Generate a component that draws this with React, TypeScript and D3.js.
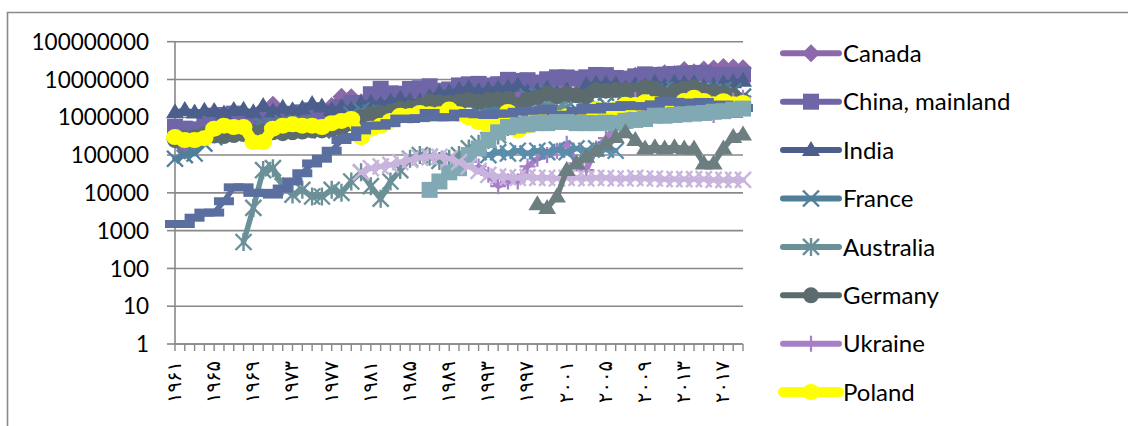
import React from "react";
import * as d3 from "d3";

const N = null;

const YEARS = [
  1961, 1962, 1963, 1964, 1965, 1966, 1967, 1968, 1969, 1970,
  1971, 1972, 1973, 1974, 1975, 1976, 1977, 1978, 1979, 1980,
  1981, 1982, 1983, 1984, 1985, 1986, 1987, 1988, 1989, 1990,
  1991, 1992, 1993, 1994, 1995, 1996, 1997, 1998, 1999, 2000,
  2001, 2002, 2003, 2004, 2005, 2006, 2007, 2008, 2009, 2010,
  2011, 2012, 2013, 2014, 2015, 2016, 2017, 2018, 2019,
];

const X_LABEL_YEARS = [1961, 1965, 1969, 1973, 1977, 1981, 1985, 1989, 1993, 1997, 2001, 2005, 2009, 2013, 2017];
const X_LABELS = ["۱۹۶۱", "۱۹۶۵", "۱۹۶۹", "۱۹۷۳", "۱۹۷۷", "۱۹۸۱", "۱۹۸۵", "۱۹۸۹", "۱۹۹۳", "۱۹۹۷", "۲۰۰۱", "۲۰۰۵", "۲۰۰۹", "۲۰۱۳", "۲۰۱۷"];
const Y_TICKS = [1, 10, 100, 1000, 10000, 100000, 1000000, 10000000, 100000000];
const Y_LABELS = ["1", "10", "100", "1000", "10000", "100000", "1000000", "10000000", "100000000"];

const CANADA = [
  254000, 131000, 186000, 324000, 531000, 585000, 550000, 429000, 840000, 1638000,
  2160000, 1305000, 1202000, 1197000, 1741000, 836000, 1973000, 3497000, 3411000, 2483000,
  1837000, 2226000, 2585000, 3425000, 3498000, 3787000, 3846000, 4284000, 3096000, 3266000,
  4224000, 3872000, 5525000, 7233000, 6436000, 5062000, 6393000, 7643000, 8798000, 7205000,
  5017000, 4178000, 6771000, 7728000, 9483000, 9000000, 9529000, 12643000, 12417000, 12789000,
  14608000, 13869000, 17960000, 15555000, 18377000, 19599000, 21328000, 20724000, 19912000,
];
const CHINA = [
  560000, 500000, 480000, 620000, 1100000, 1150000, 1250000, 1000000, 920000, 970000,
  1120000, 1120000, 1240000, 1350000, 1530000, 1350000, 1210000, 1870000, 2400000, 2380000,
  4070000, 5660000, 4290000, 4200000, 5600000, 5880000, 6600000, 5040000, 5440000, 6960000,
  7440000, 7650000, 6940000, 7490000, 9780000, 9200000, 9580000, 8300000, 10130000, 11380000,
  11330000, 10550000, 11420000, 13180000, 13050000, 10970000, 10570000, 12100000, 13660000, 13080000,
  13430000, 14000000, 14460000, 14770000, 14930000, 13130000, 13270000, 13280000, 13480000,
];
const INDIA = [
  1350000, 1550000, 1330000, 1480000, 1470000, 1260000, 1550000, 1570000, 1350000, 1980000,
  1430000, 1800000, 1530000, 1700000, 2250000, 1940000, 1550000, 1860000, 1600000, 2300000,
  2380000, 2210000, 2610000, 3070000, 2680000, 2600000, 3400000, 4380000, 4500000, 5230000,
  5860000, 4870000, 5330000, 5800000, 6000000, 6960000, 4700000, 4900000, 5660000, 4190000,
  5100000, 3900000, 7000000, 7600000, 7600000, 7400000, 5800000, 7200000, 6600000, 8180000,
  6600000, 8030000, 7880000, 7960000, 6310000, 6800000, 7900000, 8430000, 9260000,
];
const FRANCE = [
  80000, 100000, 110000, 200000, 300000, 400000, 450000, 400000, 500000, 600000,
  600000, 700000, 650000, 700000, 550000, 450000, 500000, 700000, 1200000, 1500000,
  1300000, 1300000, 1200000, 1400000, 1400000, 1500000, 2000000, 2000000, 1800000, 2000000,
  2300000, 1900000, 1700000, 1800000, 2800000, 2900000, 3500000, 3700000, 4400000, 3500000,
  2900000, 3300000, 3400000, 3900000, 4500000, 4100000, 4600000, 4700000, 5600000, 4800000,
  5400000, 5400000, 4400000, 5500000, 5300000, 4700000, 5400000, 4900000, 3500000,
];
const AUSTRALIA = [
  N, N, N, N, N, N, N, 500, 4000, 40000,
  45000, 15000, 9000, 12000, 8000, 8000, 12000, 10000, 20000, 35000,
  15000, 7000, 20000, 40000, 80000, 100000, 90000, 70000, 80000, 100000,
  150000, 200000, 250000, 330000, 550000, 600000, 850000, 1700000, 2400000, 1700000,
  1760000, 870000, 1700000, 1500000, 1440000, 570000, 1200000, 1840000, 1900000, 2360000,
  3430000, 4140000, 3830000, 3540000, 2780000, 4310000, 3890000, 2200000, 2300000,
];
const GERMANY = [
  250000, 280000, 300000, 350000, 330000, 320000, 340000, 360000, 400000, 420000,
  400000, 380000, 400000, 420000, 450000, 450000, 480000, 520000, 700000, 1000000,
  1200000, 1300000, 1400000, 1700000, 1800000, 2000000, 2600000, 2500000, 2400000, 2600000,
  2900000, 2600000, 2900000, 3000000, 3100000, 2100000, 2900000, 3400000, 4300000, 3600000,
  4200000, 3800000, 3600000, 5300000, 5050000, 5300000, 5300000, 5150000, 6300000, 5700000,
  3900000, 4800000, 5800000, 6250000, 5000000, 4600000, 4300000, 3700000, 2800000,
];
const UKRAINE = [
  N, N, N, N, N, N, N, N, N, N,
  N, N, N, N, N, N, N, N, N, N,
  N, N, N, N, N, N, N, N, N, N,
  N, 50000, 30000, 15000, 20000, 20000, 50000, 80000, 100000, 130000,
  200000, 60000, 40000, 150000, 280000, 600000, 1050000, 2870000, 1870000, 1470000,
  1440000, 1200000, 2350000, 2200000, 1740000, 1150000, 2200000, 2750000, 3280000,
];
const POLAND = [
  300000, 250000, 250000, 280000, 500000, 600000, 550000, 550000, 220000, 220000,
  500000, 600000, 650000, 600000, 600000, 550000, 700000, 800000, 900000, 300000,
  500000, 600000, 800000, 1100000, 1080000, 1300000, 1200000, 1200000, 1600000, 1200000,
  1000000, 750000, 600000, 750000, 1380000, 450000, 600000, 1100000, 1130000, 960000,
  1060000, 950000, 800000, 1630000, 1450000, 1650000, 2130000, 2100000, 2500000, 2230000,
  1860000, 1880000, 2680000, 3280000, 2700000, 2200000, 2670000, 2200000, 2400000,
];
const SERIES_9 = [
  1500, 1500, 2200, 3000, 3000, 6000, 14000, 14000, 10000, 10000,
  9000, 13000, 20000, 33000, 60000, 80000, 130000, 250000, 300000, 450000,
  600000, 600000, 700000, 925000, 900000, 950000, 1300000, 1000000, 1000000, 1250000,
  1300000, 1200000, 1150000, 1250000, 1250000, 1400000, 1500000, 1500000, 1700000, 1160000,
  1160000, 1500000, 1770000, 1600000, 1900000, 1870000, 2100000, 1970000, 1950000, 2200000,
  2750000, 2560000, 2130000, 2460000, 2540000, 1770000, 2170000, 2010000, 1750000,
];
const SERIES_10 = [
  N, N, N, N, N, N, N, N, N, N,
  N, N, N, N, N, N, N, N, N, N,
  N, N, N, N, N, N, N, N, N, N,
  N, 120000, 100000, 120000, 110000, 130000, 110000, 130000, 120000, 140000,
  120000, 150000, 130000, 150000, 140000, 130000, N, N, N, N,
  N, N, N, N, N, N, N, N, N,
];
const SERIES_11 = [
  N, N, N, N, N, N, N, N, N, N,
  N, N, N, N, N, N, N, N, N, N,
  N, N, N, N, N, N, 12000, 20000, 35000, 45000,
  100000, 150000, 250000, 400000, 550000, 600000, 650000, 700000, 700000, 750000,
  750000, 700000, 700000, 700000, 720000, 700000, 800000, 850000, 900000, 1100000,
  1100000, 1150000, 1200000, 1250000, 1300000, 1400000, 1450000, 1600000, 1700000,
];
const SERIES_12 = [
  N, N, N, N, N, N, N, N, N, N,
  N, N, N, N, N, N, N, N, N, 35000,
  45000, 50000, 55000, 65000, 75000, 85000, 90000, 90000, 80000, 65000,
  50000, 38000, 30000, 27000, 26000, 25000, 26000, 25000, 25000, 24000,
  25000, 25000, 24000, 25000, 25000, 24000, 24000, 25000, 24000, 24000,
  23000, 23000, 23000, 23000, 23000, 22000, 22000, 22000, 22000,
];
const SERIES_13 = [
  N, N, N, N, N, N, N, N, N, N,
  N, N, N, N, N, N, N, N, N, N,
  N, N, N, N, N, N, N, N, N, N,
  N, N, N, N, N, N, N, 5000, 4000, 8000,
  40000, 60000, 90000, 130000, 200000, 300000, 400000, 250000, 150000, 160000,
  150000, 160000, 150000, 150000, 60000, 60000, 150000, 300000, 350000,
];

type MarkerType = "diamond" | "square" | "triangle" | "x" | "star" | "circle" | "plus" | "dash" | "blob";

interface Series {
  name: string;
  values: (number | null)[];
  color: string;
  marker: MarkerType;
  width: number;
  legend: boolean;
}

const SERIES: Series[] = [
  { name: "Canada", values: CANADA, color: "#8C69AA", marker: "diamond", width: 5.5, legend: true },
  { name: "China, mainland", values: CHINA, color: "#6E66A6", marker: "square", width: 5.5, legend: true },
  { name: "India", values: INDIA, color: "#4B5E8C", marker: "triangle", width: 5.5, legend: true },
  { name: "France", values: FRANCE, color: "#4F7F99", marker: "x", width: 5.5, legend: true },
  { name: "Australia", values: AUSTRALIA, color: "#6A9098", marker: "star", width: 5.5, legend: true },
  { name: "Germany", values: GERMANY, color: "#5B6B6E", marker: "circle", width: 5.5, legend: true },
  { name: "Ukraine", values: UKRAINE, color: "#A67FC6", marker: "plus", width: 5.5, legend: true },
  { name: "Poland", values: POLAND, color: "#FFFF00", marker: "blob", width: 11, legend: true },
  { name: "s9", values: SERIES_9, color: "#5A6FA0", marker: "dash", width: 5.5, legend: false },
  { name: "s10", values: SERIES_10, color: "#5B8DAB", marker: "x", width: 5.5, legend: false },
  { name: "s11", values: SERIES_11, color: "#80A9B4", marker: "square", width: 5.5, legend: false },
  { name: "s12", values: SERIES_12, color: "#C8B4DC", marker: "x", width: 5.5, legend: false },
  { name: "s13", values: SERIES_13, color: "#6D7E80", marker: "triangle", width: 5.5, legend: false },
];

const W = 1128;
const H = 426;
const PLOT_LEFT = 175;
const PLOT_RIGHT = 743;
const PLOT_TOP = 41.7;
const PLOT_BOTTOM = 344;
const GRID = "#888888";

function Marker({ type, x, y, color }: { type: MarkerType; x: number; y: number; color: string }) {
  const r = 8;
  switch (type) {
    case "diamond":
      return <path d={`M${x},${y - r - 1}L${x + r + 1},${y}L${x},${y + r + 1}L${x - r - 1},${y}Z`} fill={color} />;
    case "square":
      return <rect x={x - r} y={y - r} width={2 * r} height={2 * r} fill={color} />;
    case "triangle":
      return <path d={`M${x},${y - r - 1}L${x + r + 1},${y + r - 2}L${x - r - 1},${y + r - 2}Z`} fill={color} />;
    case "x":
      return (
        <path d={`M${x - r},${y - r}L${x + r},${y + r}M${x - r},${y + r}L${x + r},${y - r}`} stroke={color} strokeWidth={2.4} fill="none" />
      );
    case "star":
      return (
        <path
          d={`M${x - r},${y - r}L${x + r},${y + r}M${x - r},${y + r}L${x + r},${y - r}M${x},${y - r - 1}L${x},${y + r + 1}`}
          stroke={color}
          strokeWidth={2.4}
          fill="none"
        />
      );
    case "circle":
      return <circle cx={x} cy={y} r={r} fill={color} />;
    case "plus":
      return <path d={`M${x - r},${y}L${x + r},${y}M${x},${y - r}L${x},${y + r}`} stroke={color} strokeWidth={2.2} fill="none" />;
    case "dash":
      return <rect x={x - 10} y={y - 4} width={20} height={8} fill={color} />;
    case "blob":
      return <ellipse cx={x} cy={y} rx={9} ry={8} fill={color} />;
  }
  return null;
}

export default function App() {
  const x = d3.scalePoint<number>().domain(YEARS).range([PLOT_LEFT, PLOT_RIGHT]).padding(0);
  const y = d3.scaleLog().domain([1, 100000000]).range([PLOT_BOTTOM, PLOT_TOP]);

  const line = d3
    .line<{ year: number; v: number | null }>()
    .defined((d) => d.v != null)
    .x((d) => x(d.year) as number)
    .y((d) => y(d.v as number));

  const legendX0 = 783;
  const legendX1 = 839;
  const legendTextX = 843;
  const legendY0 = 53.3;
  const legendStep = 48.4;
  const legendSeries = SERIES.filter((s) => s.legend);

  return (
    <svg
      width={W}
      height={H}
      style={{ position: "absolute", left: 0, top: 0, background: "#ffffff" }}
      xmlns="http://www.w3.org/2000/svg"
    >
      <rect x={0} y={0} width={W} height={H} fill="#ffffff" />
      {/* chart area border */}
      <path d={`M7.5,${H + 2}V12.5H${W + 2}`} stroke="#8a8a8a" strokeWidth={1.6} fill="none" />

      {/* gridlines */}
      {Y_TICKS.map((t) => (
        <line key={"g" + t} x1={PLOT_LEFT} x2={PLOT_RIGHT} y1={y(t)} y2={y(t)} stroke={GRID} strokeWidth={1.6} />
      ))}

      {/* y axis */}
      <line x1={PLOT_LEFT} x2={PLOT_LEFT} y1={PLOT_TOP} y2={PLOT_BOTTOM} stroke={GRID} strokeWidth={1.6} />
      {Y_TICKS.map((t) => (
        <line key={"yt" + t} x1={PLOT_LEFT - 8} x2={PLOT_LEFT} y1={y(t)} y2={y(t)} stroke={GRID} strokeWidth={1.6} />
      ))}
      {Y_TICKS.map((t, i) => (
        <text
          key={"yl" + t}
          x={149}
          y={y(t)}
          dy="0.36em"
          textAnchor="end"
          fontFamily="Lato, 'Open Sans', sans-serif"
          fontSize={22.5}
          fill="#000"
        >
          {Y_LABELS[i]}
        </text>
      ))}

      {/* x axis */}
      <line x1={PLOT_LEFT} x2={PLOT_RIGHT} y1={PLOT_BOTTOM} y2={PLOT_BOTTOM} stroke={GRID} strokeWidth={1.6} />
      {YEARS.map((yr) => (
        <line
          key={"xt" + yr}
          x1={x(yr) as number}
          x2={x(yr) as number}
          y1={PLOT_BOTTOM}
          y2={PLOT_BOTTOM + 7}
          stroke={GRID}
          strokeWidth={1.4}
        />
      ))}
      {X_LABEL_YEARS.map((yr, i) => {
        const xx = x(yr) as number;
        const yy = 361;
        return (
          <text
            key={"xl" + yr}
            x={xx}
            y={yy}
            dy="0.3em"
            textAnchor="end"
            transform={`rotate(-90, ${xx}, ${yy})`}
            fontFamily="'DejaVu Sans', sans-serif"
            fontSize={19.5}
            fill="#000"
          >
            {X_LABELS[i]}
          </text>
        );
      })}

      {/* series */}
      {SERIES.map((s) => {
        const pts = YEARS.map((yr, i) => ({ year: yr, v: s.values[i] }));
        return (
          <g key={s.name}>
            <path
              d={line(pts) || ""}
              fill="none"
              stroke={s.color}
              strokeWidth={s.width}
              strokeLinejoin="round"
              strokeLinecap="round"
            />
            {pts
              .filter((p) => p.v != null)
              .map((p) => (
                <Marker key={p.year} type={s.marker} x={x(p.year) as number} y={y(p.v as number)} color={s.color} />
              ))}
          </g>
        );
      })}

      {/* legend */}
      {legendSeries.map((s, i) => {
        const ly = legendY0 + i * legendStep;
        const cx = (legendX0 + legendX1) / 2;
        return (
          <g key={"lg" + s.name}>
            <line
              x1={legendX0}
              x2={legendX1}
              y1={ly}
              y2={ly}
              stroke={s.color}
              strokeWidth={s.marker === "blob" ? 10 : 6}
              strokeLinecap="round"
            />
            <Marker type={s.marker} x={cx} y={ly} color={s.color} />
            <text
              x={legendTextX}
              y={ly}
              dy="0.36em"
              fontFamily="Lato, 'Open Sans', sans-serif"
              fontSize={24}
              fill="#000"
            >
              {s.name}
            </text>
          </g>
        );
      })}
    </svg>
  );
}
